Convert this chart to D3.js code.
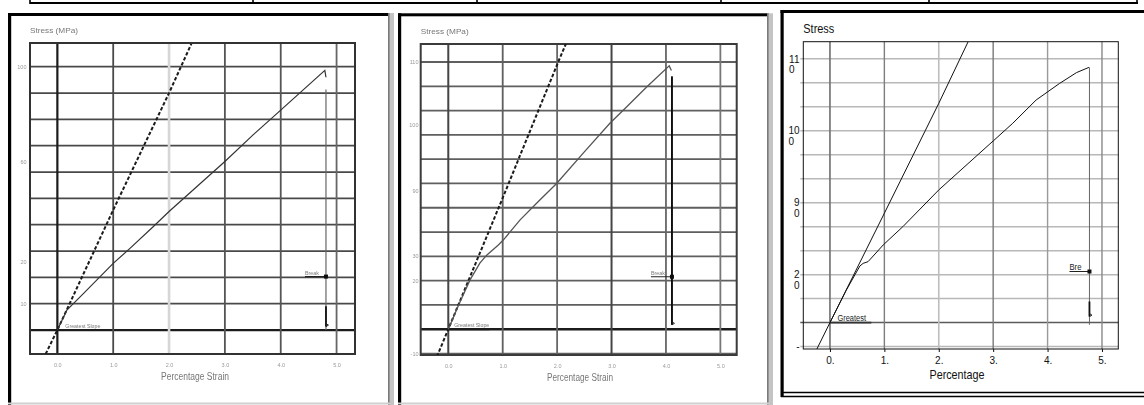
<!DOCTYPE html>
<html>
<head>
<meta charset="utf-8">
<script src="https://cdn.jsdelivr.net/npm/d3@7"></script>
<style>
  body { margin: 0; background: #fff; }
  svg { display: block; font-family: "Liberation Sans", Arial, sans-serif; }
</style>
</head>
<body>
<svg id="chart" width="1144" height="405"></svg>
<script>
// values are in grid units (one unit = one grid row)
const xTicks = [0, 1, 2, 3, 4, 5];
const xLabelsAB = ["0.0", "1.0", "2.0", "3.0", "4.0", "5.0"];
const xLabelsC = ["0.", "1.", "2.", "3.", "4.", "5."];

const p1GridY = [0, 1, 2, 3, 4, 5, 6, 7, 8, 9, 10];
const p2GridY = [-1, 0, 1, 2, 3, 4, 5, 6, 7, 8, 9, 10, 11];
const p3GridY = [-1, 0, 1, 2, 3, 4, 5, 6, 7, 8, 9, 10, 11];

const p1YTicks = [10, 6.4, 2.6, 1];
const p1YLabels = ["100", "60", "20", "10"];
const p2YTicks = [11, 8.4, 5.7, 3, 2, -1];
const p2YLabels = ["110", "100", "90", "30", "20", "-10"];
const p3YTicks = [11, 8, 5, 2, -1];
const p3YLabels = [["11", "0"], ["10", "0"], ["9", "0"], ["2", "0"], ["-"]];

// greatest slope lines
const p1Slope = [[-0.21, -0.91], [0, 0], [1, 4.56], [2, 9.0], [2.4, 10.87]];
const p2Slope = [[-0.21, -1.13], [0, 0], [1.01, 5.46], [2.02, 11.0], [2.16, 11.74]];
const p3Slope = [[-0.24, -1.1], [0, 0], [1, 4.56], [2, 9.14], [2.54, 11.71]];

// measured curves
const p1Curve = [[0, 0], [0.17, 0.76], [0.47, 1.39], [1.0, 2.53], [1.3, 3.1], [1.72, 3.93],
  [2.0, 4.5], [2.5, 5.45], [3.0, 6.4], [3.5, 7.4], [4.0, 8.35], [4.79, 9.86], [4.81, 9.6]];
const p2Curve = [[0, 0], [0.2, 1.05], [0.4, 2.03], [0.58, 2.72], [0.71, 3.06], [0.92, 3.47],
  [1.01, 3.67], [1.32, 4.5], [1.65, 5.25], [1.99, 6.0], [2.5, 7.3], [2.97, 8.48],
  [3.28, 9.16], [3.65, 9.98], [4.06, 10.84], [4.1, 10.65]];
const p3Curve = [[0, 0], [0.3, 1.35], [0.55, 2.36], [0.61, 2.47], [0.7, 2.54], [0.98, 3.24],
  [1.34, 4.0], [2.0, 5.53], [2.94, 7.45], [3.0, 7.57], [3.36, 8.31], [3.79, 9.28],
  [4.22, 9.97], [4.53, 10.42], [4.76, 10.64]];

// break drop: [strain, from, to], heavy part [from, to], break mark
const p1Drop = [4.81, 9.13, 0.0];
const p1DropHeavy = [0.9, 0.13];
const p1Break = 2.03;
const p2Drop = [4.11, 10.4, 0.18];
const p2DropHeavy = [10.4, 0.18];
const p2Break = 2.16;
const p3Drop = [4.77, 10.64, -0.09];
const p3DropHeavy = [0.88, 0.25];
const p3Break = 2.13;

const greatest = 0.76; // end of the "greatest slope" underline

const svg = d3.select("#chart");
const defs = svg.append("defs");
defs.append("filter").attr("id", "scan")
  .attr("x", "-5%").attr("y", "-5%").attr("width", "110%").attr("height", "110%")
  .append("feGaussianBlur").attr("stdDeviation", 0.55);

// ---- table row at the top
const rowCols = [30, 253, 477, 721, 929, 1137];
svg.append("line").attr("x1", 30).attr("x2", 1138).attr("y1", 3).attr("y2", 3)
  .attr("stroke", "#000").attr("stroke-width", 2);
svg.selectAll(".rowcol").data(rowCols).join("line")
  .attr("x1", d => d).attr("x2", d => d).attr("y1", 0).attr("y2", 4)
  .attr("stroke", "#000").attr("stroke-width", 1.6);

// ---- panel frames
function frame(f) {
  svg.append("rect").attr("x", f.l).attr("y", f.t).attr("width", 3.2).attr("height", f.b - f.t).attr("fill", "#000");
  svg.append("rect").attr("x", f.l).attr("y", f.t).attr("width", f.r - f.l).attr("height", 3).attr("fill", "#000");
  if (f.grey) {
    svg.append("rect").attr("x", f.r - 2).attr("y", f.t).attr("width", 6).attr("height", f.b - f.t).attr("fill", "#c4c4c4");
    svg.append("rect").attr("x", f.r - 2).attr("y", f.t).attr("width", 1.6).attr("height", f.b - f.t).attr("fill", "#7a7a7a");
    svg.append("line").attr("x1", f.l).attr("x2", f.r).attr("y1", 403.5).attr("y2", 403.5)
      .attr("stroke", "#d0d0d0").attr("stroke-width", 2);
  }
}
frame({ l: 8, t: 13, r: 390, b: 405, grey: true });
frame({ l: 398, t: 13.3, r: 769, b: 405, grey: true });
frame({ l: 780.5, t: 10, r: 1144, b: 397, grey: false });
[392.5, 396.5].forEach(yy => svg.append("line").attr("x1", 781).attr("x2", 1144)
  .attr("y1", yy).attr("y2", yy).attr("stroke", "#000").attr("stroke-width", 1.5));

function panel(cfg) {
  const g = svg.append("g");
  if (cfg.blur) g.attr("filter", "url(#scan)");
  const x = d3.scaleLinear().domain(cfg.xd).range([cfg.left, cfg.right]);
  const y = d3.scaleLinear().domain(cfg.yd).range([cfg.bottom, cfg.top]);

  const clipId = cfg.id + "clip";
  defs.append("clipPath").attr("id", clipId).append("rect")
    .attr("x", cfg.left).attr("y", cfg.top)
    .attr("width", cfg.right - cfg.left).attr("height", cfg.bottom - cfg.top);

  // horizontal grid
  g.selectAll(".hg").data(cfg.gridY).join("line")
    .attr("x1", cfg.left - cfg.tickOut).attr("x2", cfg.right)
    .attr("y1", d => y(d)).attr("y2", d => y(d))
    .attr("stroke", d => d === 0 ? cfg.zeroStroke : cfg.hStroke)
    .attr("stroke-width", d => d === 0 ? cfg.zeroWidth : cfg.hWidth);

  // vertical grid
  g.selectAll(".vg").data(xTicks).join("line")
    .attr("x1", d => x(d)).attr("x2", d => x(d))
    .attr("y1", cfg.top).attr("y2", cfg.bottom)
    .attr("stroke", (d, i) => cfg.vStroke[i])
    .attr("stroke-width", (d, i) => cfg.vWidth[i]);

  // plot box
  g.append("rect").attr("x", cfg.left).attr("y", cfg.top)
    .attr("width", cfg.right - cfg.left).attr("height", cfg.bottom - cfg.top)
    .attr("fill", "none").attr("stroke", cfg.boxStroke).attr("stroke-width", cfg.boxWidth);

  // x axis labels
  const ax = g.append("g").attr("transform", `translate(0,${cfg.bottom})`)
    .call(d3.axisBottom(x).tickValues(xTicks).tickFormat((d, i) => cfg.xLabels[i])
      .tickSize(cfg.xTickSize).tickSizeOuter(0).tickPadding(cfg.xPad));
  ax.select(".domain").remove();
  ax.selectAll("line").attr("stroke", cfg.boxStroke);
  ax.selectAll("text").attr("font-size", cfg.tickFont).attr("fill", cfg.tickFill)
    .attr("font-family", "Liberation Sans, Arial, sans-serif");

  // y labels
  cfg.yTicks.forEach((v, i) => {
    const lab = cfg.yLabels[i];
    if (Array.isArray(lab)) {
      const t = g.append("text").attr("x", cfg.yLabelX).attr("y", y(v) + 3.8)
        .attr("text-anchor", "end").attr("font-size", cfg.tickFont).attr("fill", cfg.tickFill).text(lab[0]);
      if (lab[1]) {
        const bx = t.node().getBBox().x;
        g.append("text").attr("x", bx).attr("y", y(v) + 14.2)
          .attr("font-size", cfg.tickFont).attr("fill", cfg.tickFill).text(lab[1]);
      }
    } else {
      g.append("text").attr("x", cfg.yLabelX).attr("y", y(v) + 2)
        .attr("text-anchor", "end").attr("font-size", cfg.tickFont).attr("fill", cfg.tickFill).text(lab);
    }
  });

  const line = d3.line().x(p => x(p[0])).y(p => y(p[1]));
  const curves = g.append("g").attr("clip-path", `url(#${clipId})`);

  // greatest slope underline
  curves.append("line").attr("x1", x(0)).attr("x2", x(greatest))
    .attr("y1", y(0)).attr("y2", y(0))
    .attr("stroke", cfg.underStroke).attr("stroke-width", 1.8);

  curves.append("path").attr("d", line(cfg.slope)).attr("fill", "none")
    .attr("stroke", cfg.slopeStroke).attr("stroke-width", cfg.slopeWidth)
    .attr("stroke-dasharray", cfg.slopeDash);
  curves.append("path").attr("d", line(cfg.curve)).attr("fill", "none")
    .attr("stroke", cfg.curveStroke).attr("stroke-width", cfg.curveWidth);

  // break drop
  const dx = x(cfg.drop[0]);
  curves.append("line").attr("x1", dx).attr("x2", dx)
    .attr("y1", y(cfg.drop[1])).attr("y2", y(cfg.drop[2]))
    .attr("stroke", cfg.dropStroke).attr("stroke-width", cfg.dropWidth);
  curves.append("line").attr("x1", dx).attr("x2", dx)
    .attr("y1", y(cfg.dropHeavy[0])).attr("y2", y(cfg.dropHeavy[1]))
    .attr("stroke", "#111").attr("stroke-width", 1.8);
  curves.append("path")
    .attr("d", `M${dx},${y(cfg.dropHeavy[1]) - 3}l2.5,1.5l-2.5,1.5`)
    .attr("fill", "none").attr("stroke", "#222").attr("stroke-width", 1);

  const by = y(cfg.brk);
  curves.append("line").attr("x1", dx - cfg.brkOff).attr("x2", dx)
    .attr("y1", by).attr("y2", by).attr("stroke", "#222").attr("stroke-width", 1.2);
  curves.append("rect").attr("x", dx - 2).attr("y", by - 2).attr("width", 4).attr("height", 4)
    .attr("fill", "#111");
  g.append("text").attr("x", dx - cfg.brkOff).attr("y", by - 1.5)
    .attr("font-size", cfg.noteFont).attr("fill", cfg.noteFill)
    .attr("textLength", cfg.brkLen).attr("lengthAdjust", "spacingAndGlyphs")
    .text(cfg.brkText);
  g.append("text").attr("x", x(0) + cfg.gsOff).attr("y", y(0) - 2)
    .attr("font-size", cfg.noteFont).attr("fill", cfg.noteFill)
    .attr("textLength", cfg.gsLen).attr("lengthAdjust", "spacingAndGlyphs")
    .text(cfg.gsText);

  // axis titles
  g.append("text").attr("x", cfg.left + cfg.yTitleDx).attr("y", cfg.yTitleY)
    .attr("font-size", cfg.yTitleFont).attr("fill", cfg.titleFill)
    .attr("textLength", cfg.yTitleLen).attr("lengthAdjust", "spacingAndGlyphs")
    .text(cfg.yTitle);
  g.append("text").attr("x", cfg.xTitleX).attr("y", cfg.xTitleY)
    .attr("text-anchor", "middle").attr("font-size", cfg.xTitleFont).attr("fill", cfg.titleFill)
    .attr("textLength", cfg.xTitleLen).attr("lengthAdjust", "spacingAndGlyphs")
    .text(cfg.xTitle);
}

panel({
  id: "p1", blur: true, left: 30, right: 355, top: 43, bottom: 354,
  xd: [-0.49, 5.33], yd: [-0.91, 10.9], gridY: p1GridY, tickOut: 0,
  hStroke: "#4a4a4a", hWidth: 1.8, zeroStroke: "#1c1c1c", zeroWidth: 2.2,
  vStroke: ["#1c1c1c", "#4a4a4a", "#d6d6d6", "#555", "#555", "#666"],
  vWidth: [2.2, 1.8, 2.6, 1.8, 1.8, 1.8],
  boxStroke: "#333", boxWidth: 2,
  xLabels: xLabelsAB, xTickSize: 0, xPad: 9, tickFont: 5.5, tickFill: "#999",
  yTicks: p1YTicks, yLabels: p1YLabels, yLabelX: 26.5,
  slope: p1Slope, slopeStroke: "#1a1a1a", slopeWidth: 2, slopeDash: "3.5,2",
  curve: p1Curve, curveStroke: "#333", curveWidth: 1.2,
  drop: p1Drop, dropHeavy: p1DropHeavy, dropStroke: "#666", dropWidth: 1.2,
  brk: p1Break, brkOff: 21, brkText: "Break", brkLen: 14,
  gsOff: 8, gsText: "Greatest Slope", gsLen: 35, underStroke: "#1c1c1c",
  noteFont: 5, noteFill: "#777",
  yTitle: "Stress (MPa)", yTitleDx: 0, yTitleY: 33, yTitleFont: 8, yTitleLen: 48,
  xTitle: "Percentage Strain", xTitleX: 195, xTitleY: 380, xTitleFont: 10, xTitleLen: 68,
  titleFill: "#777"
});

panel({
  id: "p2", blur: true, left: 420.7, right: 736.7, top: 44, bottom: 355,
  xd: [-0.507, 5.30], yd: [-1.06, 11.74], gridY: p2GridY, tickOut: 0,
  hStroke: "#5e5e5e", hWidth: 1.8, zeroStroke: "#1c1c1c", zeroWidth: 2.4,
  vStroke: ["#444", "#5e5e5e", "#666", "#444", "#666", "#777"],
  vWidth: [2, 1.8, 1.8, 2, 1.8, 1.8],
  boxStroke: "#3a3a3a", boxWidth: 2,
  xLabels: xLabelsAB, xTickSize: 0, xPad: 9, tickFont: 5.5, tickFill: "#999",
  yTicks: p2YTicks, yLabels: p2YLabels, yLabelX: 418.5,
  slope: p2Slope, slopeStroke: "#1a1a1a", slopeWidth: 2, slopeDash: "3.5,2",
  curve: p2Curve, curveStroke: "#555", curveWidth: 1.3,
  drop: p2Drop, dropHeavy: p2DropHeavy, dropStroke: "#222", dropWidth: 1.6,
  brk: p2Break, brkOff: 21, brkText: "Break", brkLen: 14,
  gsOff: 6, gsText: "Greatest Slope", gsLen: 35, underStroke: "#1c1c1c",
  noteFont: 5, noteFill: "#777",
  yTitle: "Stress (MPa)", yTitleDx: 0, yTitleY: 33.5, yTitleFont: 8, yTitleLen: 48,
  xTitle: "Percentage Strain", xTitleX: 580, xTitleY: 381, xTitleFont: 10, xTitleLen: 66,
  titleFill: "#777"
});

panel({
  id: "p3", blur: false, left: 803.3, right: 1118.3, top: 41.7, bottom: 349,
  xd: [-0.49, 5.30], yd: [-1.1, 11.71], gridY: p3GridY, tickOut: 3,
  hStroke: "#b8b8b8", hWidth: 1.5, zeroStroke: "#5a5a5a", zeroWidth: 1.5,
  vStroke: ["#6e6e6e", "#7e7e7e", "#bdbdbd", "#7a7a7a", "#9a9a9a", "#888"],
  vWidth: [1.6, 1.4, 1.6, 1.4, 1.4, 1.4],
  boxStroke: "#111", boxWidth: 1,
  xLabels: xLabelsC, xTickSize: 3, xPad: 5, tickFont: 10, tickFill: "#111",
  yTicks: p3YTicks, yLabels: p3YLabels, yLabelX: 799.5,
  slope: p3Slope, slopeStroke: "#111", slopeWidth: 1, slopeDash: null,
  curve: p3Curve, curveStroke: "#111", curveWidth: 1,
  drop: p3Drop, dropHeavy: p3DropHeavy, dropStroke: "#666", dropWidth: 1,
  brk: p3Break, brkOff: 20, brkText: "Bre", brkLen: 12,
  gsOff: 7.5, gsText: "Greatest", gsLen: 28.5, underStroke: "#333",
  noteFont: 8.5, noteFill: "#222",
  yTitle: "Stress", yTitleDx: 0, yTitleY: 32.5, yTitleFont: 13, yTitleLen: 31,
  xTitle: "Percentage", xTitleX: 957, xTitleY: 378.8, xTitleFont: 13, xTitleLen: 55,
  titleFill: "#111"
});
</script>
</body>
</html>
